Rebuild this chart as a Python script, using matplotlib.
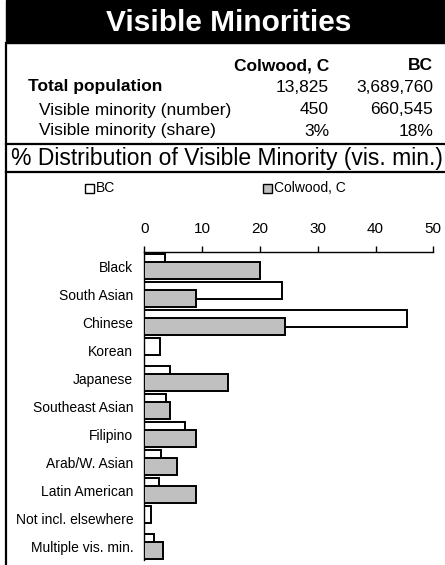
import matplotlib
matplotlib.use("Agg")
import matplotlib.pyplot as plt
from matplotlib.lines import Line2D
from matplotlib.patches import Rectangle

plt.rcParams["font.family"] = ["Liberation Sans", "DejaVu Sans"]

# --- data ---
CATEGORIES = ["Black", "South Asian", "Chinese", "Korean", "Japanese",
              "Southeast Asian", "Filipino", "Arab/W. Asian", "Latin American",
              "Not incl. elsewhere", "Multiple vis. min."]
BC = [3.5, 23.9, 45.4, 2.8, 4.4, 3.7, 7.0, 2.9, 2.5, 1.1, 1.7]
COLWOOD = [20.0, 8.9, 24.4, 0.0, 14.4, 4.4, 8.9, 5.6, 8.9, 0.0, 3.3]
XTICKS = [0, 10, 20, 30, 40, 50]

TABLE_COLS = ["Colwood, C", "BC"]
TABLE_ROWS = ["Total population", "Visible minority (number)", "Visible minority (share)"]
TABLE_COLWOOD = ["13,825", "450", "3%"]
TABLE_BC = ["3,689,760", "660,545", "18%"]

W, H = 445, 565
fig = plt.figure(figsize=(W / 100, H / 100), dpi=100)


def fx(x):
    return x / W


def fy(y):
    return 1 - y / H


# header block
fig.patches.append(Rectangle((fx(6), fy(43)), fx(445) - fx(6), fy(0) - fy(43),
                             transform=fig.transFigure, color="black"))
fig.text(fx(229), fy(23), "Visible Minorities", color="white", fontsize=21.5,
         fontweight="bold", ha="center", va="center")

# frame lines
fig.lines.append(Line2D([fx(6), fx(6)], [fy(43), fy(565)], transform=fig.transFigure,
                        color="black", lw=1.6))
for yy in (144, 172):
    fig.lines.append(Line2D([fx(6), fx(445)], [fy(yy), fy(yy)], transform=fig.transFigure,
                            color="black", lw=1.6))

# summary table
fig.text(fx(329), fy(66), TABLE_COLS[0], fontsize=12.5, fontweight="bold", ha="right", va="center")
fig.text(fx(433), fy(66), TABLE_COLS[1], fontsize=12.5, fontweight="bold", ha="right", va="center")
row_y = [87, 110, 131]
row_x = [28, 39, 39]
for i, label in enumerate(TABLE_ROWS):
    fig.text(fx(row_x[i]), fy(row_y[i]), label, fontsize=12.5,
             fontweight="bold" if i == 0 else "normal", ha="left", va="center")
    fig.text(fx(329), fy(row_y[i]), TABLE_COLWOOD[i], fontsize=12.5, ha="right", va="center")
    fig.text(fx(433), fy(row_y[i]), TABLE_BC[i], fontsize=12.5, ha="right", va="center")

fig.text(fx(227), fy(158), "% Distribution of Visible Minority (vis. min.)", fontsize=16.5,
         ha="center", va="center")

# bar chart
ax = fig.add_axes([fx(144.3), fy(560.3), fx(433.3) - fx(144.3), fy(252.3) - fy(560.3)])
y = list(range(len(CATEGORIES)))
ax.barh([v - 0.14 for v in y], BC, height=0.6, color="white", edgecolor="black",
        linewidth=1.4, label="BC", zorder=2)
ax.barh([v + 0.15 for v in y], COLWOOD, height=0.6, color="#c0c0c0", edgecolor="black",
        linewidth=1.4, label="Colwood, C", zorder=3)
ax.set_xlim(0, 50)
ax.set_ylim(len(CATEGORIES) - 0.5, -0.5)
ax.set_yticks(y)
ax.set_yticklabels(CATEGORIES, fontsize=10)
ax.tick_params(axis="y", length=0, pad=8)
ax.xaxis.tick_top()
ax.set_xticks(XTICKS)
ax.set_xticklabels([str(t) for t in XTICKS], fontsize=11)
ax.tick_params(axis="x", direction="out", length=4, width=1, pad=8)
ax.spines[["bottom", "right"]].set_visible(False)
ax.spines["top"].set_linewidth(1)
ax.spines["left"].set_linewidth(1)

# legend entries placed as in the reference
for x0, label, fc in ((85, "BC", "white"), (263, "Colwood, C", "#c0c0c0")):
    fig.patches.append(Rectangle((fx(x0), fy(193)), fx(9), fy(184) - fy(193),
                                 transform=fig.transFigure, facecolor=fc,
                                 edgecolor="black", lw=1))
    fig.text(fx(x0 + 11), fy(188.5), label, fontsize=10, ha="left", va="center")

fig.savefig("out.png", dpi=100)
